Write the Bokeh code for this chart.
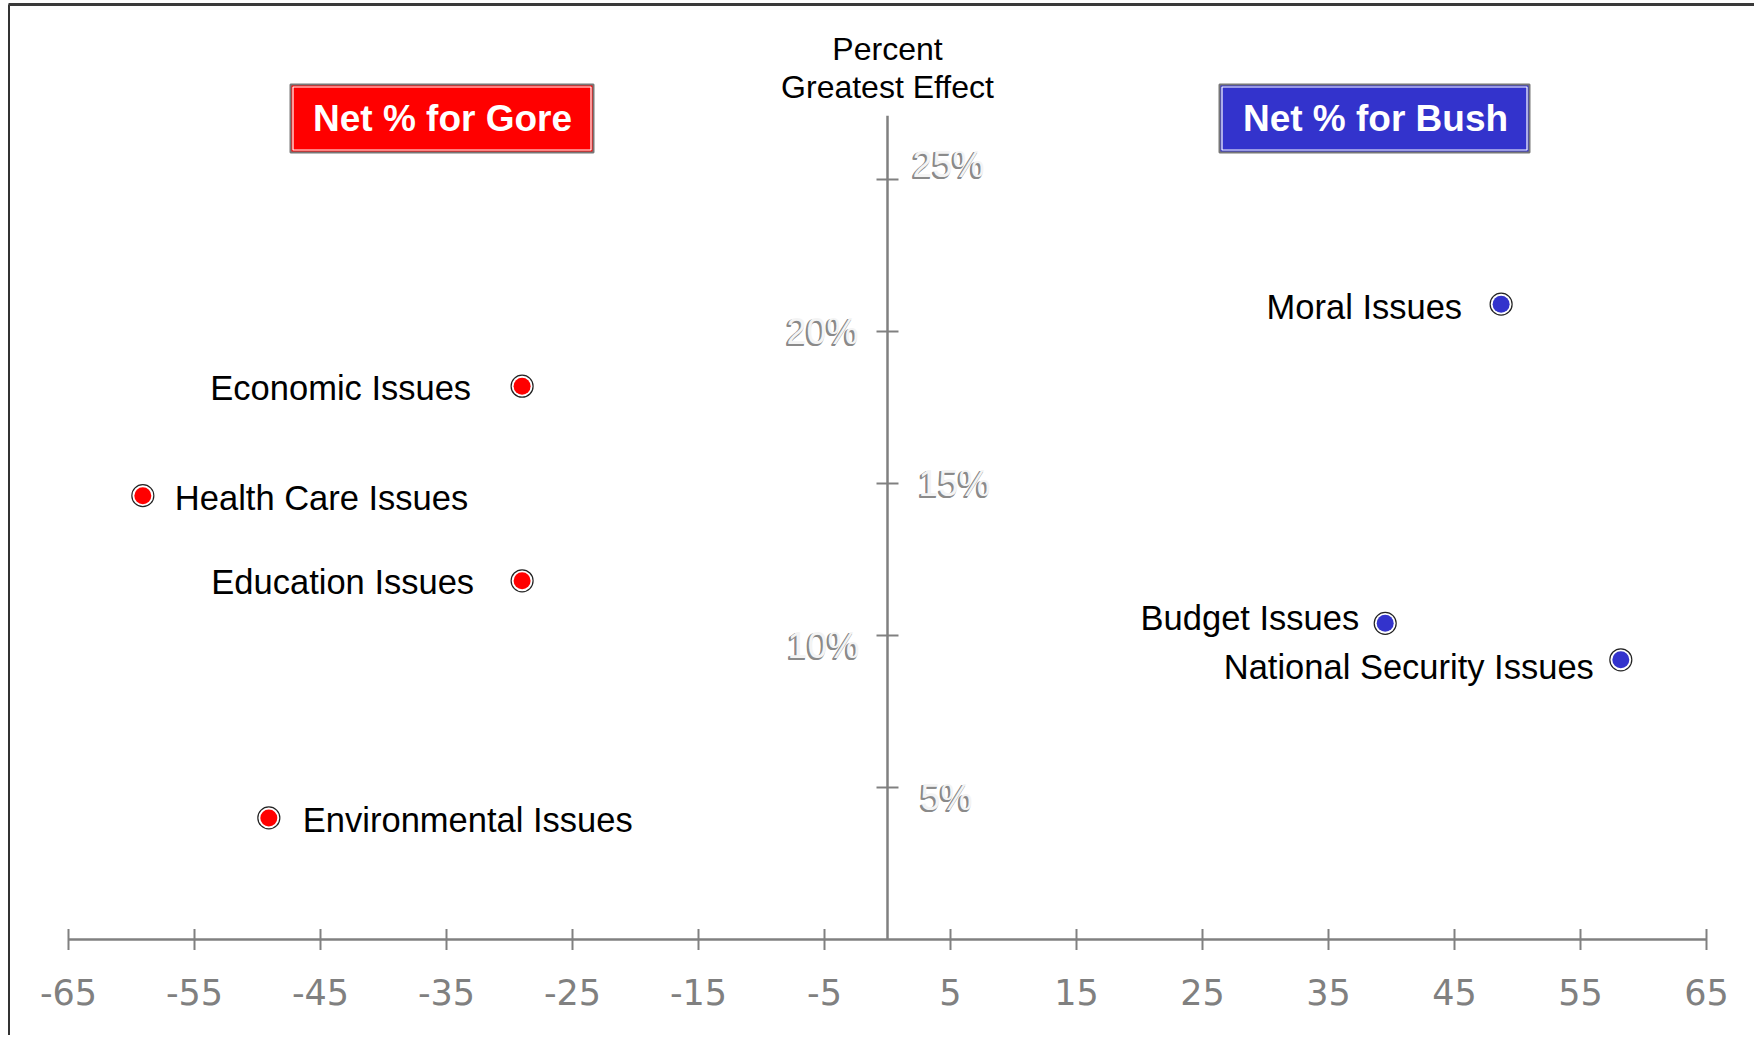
import math
from bokeh.plotting import figure
from bokeh.models import Range1d, ColumnDataSource
from bokeh.core.properties import value
from bokeh.embed import file_html
from bokeh.resources import INLINE

# ---------------- data ----------------
issues = ["Economic Issues", "Health Care Issues", "Education Issues",
          "Environmental Issues", "Moral Issues", "Budget Issues",
          "National Security Issues"]
net_pct = [-29.0, -59.1, -29.0, -49.1, 48.7, 39.5, 58.2]
greatest_effect = [18.2, 14.6, 11.8, 4.0, 20.9, 10.4, 9.2]
candidate = ["Gore", "Gore", "Gore", "Gore", "Bush", "Bush", "Bush"]

x_ticks = [-65, -55, -45, -35, -25, -15, -5, 5, 15, 25, 35, 45, 55, 65]
x_tick_labels = [str(t) for t in x_ticks]
y_ticks = [5, 10, 15, 20, 25]
y_tick_labels = ["5%", "10%", "15%", "20%", "25%"]

header_texts = ["Net % for Gore", "Net % for Bush"]
axis_title = ["Percent", "Greatest Effect"]

# ---------------- styles / layout ----------------
W, H = 1754, 1035
PX0 = 887.0      # pixel of x = 0
SX = 12.6        # pixels per x unit
PY0 = 939.0      # pixel of y = 0
SY = 30.4        # pixels per y unit
Y_AXIS_TOP = 27.1

colors = {"Gore": "#FF0000", "Bush": "#3333CC"}
label_align = ["right", "left", "right", "left", "right", "right", "right"]
label_dx = [-51, 32, -48, 34, -39, -26, -27]
label_dy = [2, 2, 1, 2, 3, -5, 7]

ytl_align = ["left", "right", "left", "right", "left"]
ytl_dx = [33, -28, 31, -29, 25]
ytl_dy = [10, 10, 0, 0, -15]
shadow_offsets = [(-2, 2), (-1, 2), (-2, 1), (-1, 1)]

AXIS_COLOR = "#808080"
FONT = "Liberation Sans"


def fx(px):
    """pixel -> data x"""
    return (px - PX0) / SX


def fy(py):
    """pixel -> data y"""
    return (PY0 - py) / SY


p = figure(width=W, height=H, output_backend="svg", toolbar_location=None,
           title=None, x_axis_location=None, y_axis_location=None,
           x_range=Range1d(-PX0 / SX, (W - PX0) / SX),
           y_range=Range1d((PY0 - H) / SY, PY0 / SY),
           min_border=0)
p.outline_line_color = None
p.xgrid.grid_line_color = None
p.ygrid.grid_line_color = None
p.background_fill_color = "white"
p.border_fill_color = "white"

# outer frame (left and top edges visible)
p.line([fx(8.5), fx(8.5)], [fy(1040), fy(4)], line_color="#333333", line_width=2)
p.line([fx(8), fx(1760)], [fy(4), fy(4)], line_color="#3a3a3a", line_width=3)

# ---------------- axes ----------------
p.line([x_ticks[0], x_ticks[-1]], [0, 0], line_color=AXIS_COLOR, line_width=2.5)
p.scatter(x_ticks, [0] * len(x_ticks), marker="dash", angle=math.pi / 2,
          size=21, line_color=AXIS_COLOR, line_width=2)
p.text(x_ticks, [0] * len(x_ticks), text=x_tick_labels, y_offset=52,
       text_align="center", text_baseline="middle",
       text_font=value("DejaVu Sans"), text_font_size="35px",
       text_color=AXIS_COLOR)

p.line([0, 0], [0, Y_AXIS_TOP], line_color=AXIS_COLOR, line_width=2.5)
p.scatter([0] * len(y_ticks), y_ticks, marker="dash", size=22,
          line_color=AXIS_COLOR, line_width=2)

ydata = dict(x=[0] * len(y_ticks), y=y_ticks, t=y_tick_labels,
             align=ytl_align, dx=ytl_dx, dy=ytl_dy)
for i, (ox, oy) in enumerate(shadow_offsets):
    ydata[f"sx{i}"] = [d + ox for d in ytl_dx]
    ydata[f"sy{i}"] = [d + oy for d in ytl_dy]
ysrc = ColumnDataSource(ydata)
# embossed tick labels: gray shadow then light face
for i in range(len(shadow_offsets)):
    p.text("x", "y", text="t", source=ysrc,
           x_offset=f"sx{i}", y_offset=f"sy{i}",
           text_align="align", text_baseline="middle", text_font=value(FONT),
           text_font_size="36px", text_color="#8a8a8a")
p.text("x", "y", text="t", source=ysrc, x_offset="dx", y_offset="dy",
       text_align="align", text_baseline="middle", text_font=value(FONT),
       text_font_size="36px", text_color="#f4f4f4")

# axis title
p.text([0, 0], [fy(48), fy(86)], text=axis_title, text_align="center",
       text_baseline="middle", text_font=value(FONT), text_font_size="32px",
       text_color="black")

# ---------------- header boxes ----------------
box_left = [fx(290), fx(1219)]
box_right = [fx(593), fx(1529)]
box_top = [fy(84), fy(84)]
box_bottom = [fy(152), fy(152)]
p.quad(left=box_left, right=box_right, top=box_top, bottom=box_bottom,
       fill_color=[colors["Gore"], colors["Bush"]], line_color="#777777",
       line_width=2)
p.quad(left=[fx(292.5), fx(1221.5)], right=[fx(590.5), fx(1526.5)],
       top=[fy(86.5), fy(86.5)], bottom=[fy(149.5), fy(149.5)],
       fill_color=None, line_color="white", line_width=1.2)
p.text([fx(442), fx(1375)], [fy(118), fy(118)], text=header_texts,
       text_align="center", text_baseline="middle", text_font=value(FONT),
       text_font_style="bold", text_font_size="37px", text_color="white")

# ---------------- points ----------------
src = ColumnDataSource(dict(
    x=net_pct, y=greatest_effect, name=issues,
    color=[colors[c] for c in candidate],
    align=label_align, dx=label_dx, dy=label_dy))
p.scatter("x", "y", source=src, size=22, fill_color="white",
          line_color="#222222", line_width=1.2)
p.scatter("x", "y", source=src, size=17, fill_color="color", line_color=None)
p.text("x", "y", text="name", source=src, x_offset="dx", y_offset="dy",
       text_align="align", text_baseline="middle", text_font=value(FONT),
       text_font_size="34.5px", text_color="black")

open("out.html", "w").write(file_html(p, INLINE))
